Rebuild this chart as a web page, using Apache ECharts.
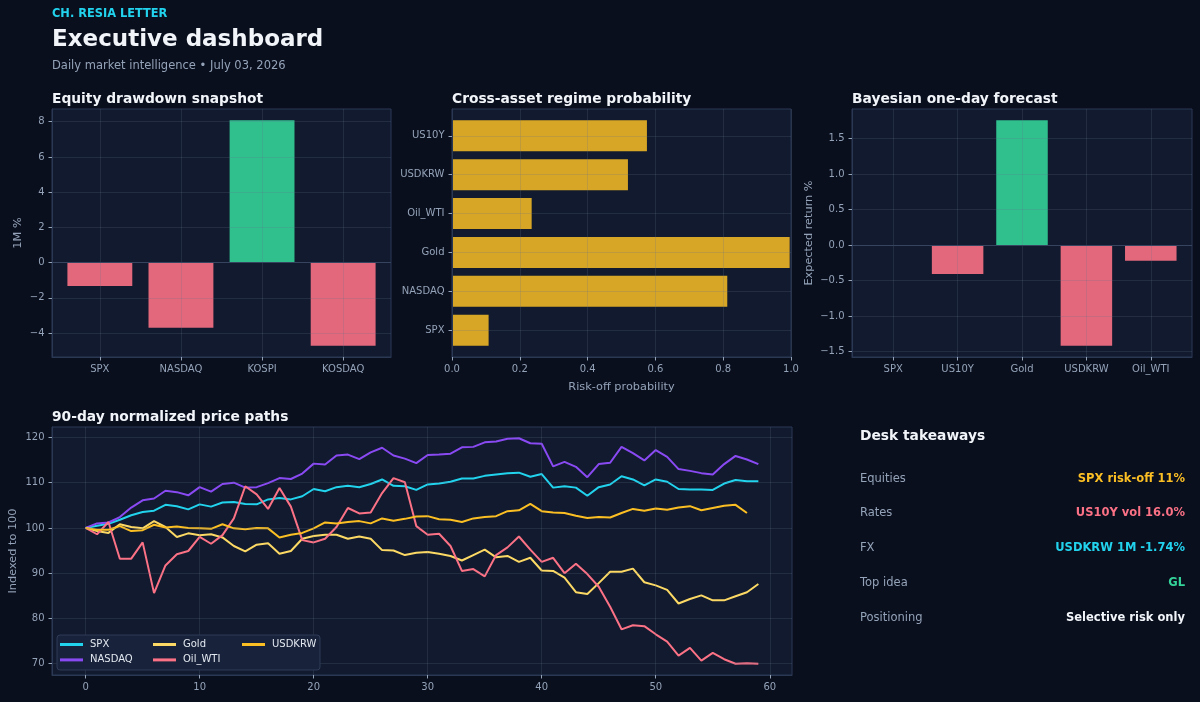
<!DOCTYPE html>
<html>
<head>
<meta charset="utf-8">
<title>Executive dashboard</title>
<script src="https://cdn.jsdelivr.net/npm/echarts@6.0.0/dist/echarts.min.js"></script>
<style>
html, body { margin: 0; padding: 0; background: #0a0f1e; }
#main { width: 1200px; height: 702px; }
</style>
</head>
<body>
<div id="main"></div>
<script>
// equity drawdown snapshot (1M %)
var eqNames = ['SPX', 'NASDAQ', 'KOSPI', 'KOSDAQ'];
var eqValues = [-1.33, -3.70, 8.08, -4.72];
var eqTicks = [-4, -2, 0, 2, 4, 6, 8];

// cross-asset regime probability, bottom to top
var regNames = ['SPX', 'NASDAQ', 'Gold', 'Oil_WTI', 'USDKRW', 'US10Y'];
var regValues = [0.108, 0.812, 0.996, 0.235, 0.519, 0.575];
var regTicks = [0, 0.2, 0.4, 0.6, 0.8, 1.0];

// bayesian one-day forecast (expected return %)
var fcNames = ['SPX', 'US10Y', 'Gold', 'USDKRW', 'Oil_WTI'];
var fcValues = [0.0, -0.41, 1.76, -1.42, -0.22];
var fcTicks = [-1.5, -1.0, -0.5, 0, 0.5, 1.0, 1.5];

// 90-day normalized price paths
var pathTicksX = [0, 10, 20, 30, 40, 50, 60];
var pathTicksY = [70, 80, 90, 100, 110, 120];
var spx = [100, 100.5, 100.9, 101.8, 102.8, 103.5, 103.8, 105.1, 104.8, 104.1,
  105.2, 104.7, 105.6, 105.7, 105.3, 105.2, 106.3, 106.6, 106.3, 107.0,
  108.6, 108.1, 109.0, 109.3, 109.0, 109.7, 110.7, 109.3, 109.2, 108.4,
  109.6, 109.8, 110.2, 110.9, 110.9, 111.5, 111.8, 112.1, 112.2, 111.3,
  111.9, 108.9, 109.2, 108.9, 107.1, 109.0, 109.6, 111.4, 110.7, 109.4,
  110.7, 110.2, 108.6, 108.5, 108.5, 108.4, 109.8, 110.6, 110.3, 110.3];
var nasdaq = [100, 101.0, 101.2, 102.4, 104.5, 106.1, 106.5, 108.2, 107.9, 107.2,
  109.0, 108.0, 109.7, 110.0, 108.9, 109.0, 109.9, 111.0, 110.8, 112.0,
  114.2, 114.0, 116.0, 116.2, 115.2, 116.7, 117.7, 116.0, 115.3, 114.3,
  116.1, 116.2, 116.4, 117.8, 117.9, 118.9, 119.1, 119.7, 119.8, 118.7,
  118.6, 113.6, 114.6, 113.5, 111.2, 114.1, 114.4, 117.9, 116.5, 114.9,
  117.2, 115.7, 113.0, 112.6, 112.1, 111.8, 114.1, 115.9, 115.1, 114.1];
var gold = [100, 99.3, 98.9, 100.8, 100.2, 99.9, 101.5, 100.2, 98.0, 98.8,
  98.4, 98.6, 97.9, 96.0, 94.8, 96.3, 96.6, 94.3, 94.9, 97.6,
  98.2, 98.5, 98.5, 97.6, 98.1, 97.6, 95.1, 95.0, 94.0, 94.5,
  94.7, 94.3, 93.8, 92.8, 94.0, 95.2, 93.5, 93.8, 92.5, 93.4,
  90.6, 90.5, 89.0, 85.8, 85.4, 87.8, 90.3, 90.3, 91.0, 88.0,
  87.3, 86.3, 83.3, 84.3, 85.1, 84.0, 84.0, 84.9, 85.8, 87.6];
var oilWti = [100, 98.6, 101.3, 93.2, 93.2, 96.8, 85.6, 91.7, 94.2, 94.9,
  98.0, 96.5, 98.4, 102.1, 109.2, 107.4, 104.2, 108.8, 104.7, 97.3,
  96.8, 97.6, 100.2, 104.4, 103.2, 103.4, 107.7, 111.0, 110.1, 100.4,
  98.5, 98.7, 96.0, 90.5, 90.9, 89.3, 94.0, 95.7, 98.1, 95.2,
  92.5, 93.4, 90.0, 92.1, 89.8, 87.0, 82.6, 77.6, 78.5, 78.3,
  76.5, 74.9, 71.8, 73.5, 70.7, 72.4, 71.0, 70.0, 70.1, 70.0];
var usdkrw = [100, 99.6, 99.6, 100.4, 99.3, 99.5, 100.7, 100.1, 100.3, 100.0,
  99.9, 99.8, 100.8, 99.9, 99.7, 100.0, 99.9, 97.9, 98.5, 98.9,
  99.9, 101.2, 101.0, 101.3, 101.5, 101.0, 102.1, 101.6, 102.0, 102.5,
  102.6, 101.9, 101.8, 101.3, 102.1, 102.4, 102.6, 103.7, 103.9, 105.3,
  103.7, 103.4, 103.3, 102.7, 102.2, 102.4, 102.3, 103.3, 104.2, 103.8,
  104.3, 104.0, 104.5, 104.8, 103.9, 104.4, 104.9, 105.1, 103.3];

// desk takeaways
var takeLabels = ['Equities', 'Rates', 'FX', 'Top idea', 'Positioning'];
var takeValues = ['SPX risk-off 11%', 'US10Y vol 16.0%', 'USDKRW 1M -1.74%', 'GL', 'Selective risk only'];

var FONT = '"DejaVu Sans", sans-serif';
var TICK = '#94a3b8';
var GRIDLINE = 'rgba(100,116,139,0.22)';
var SPINE = '#2b3854';
var PLOT_BG = '#111a2e';
var GREEN = 'rgba(52,211,153,0.9)';
var RED = 'rgba(251,113,133,0.9)';
var AMBER = 'rgba(251,191,36,0.85)';
var takeColors = ['#fbbf24', '#fb7185', '#22d3ee', '#34d399', '#f1f5f9'];

var G = [
  {left: 52, top: 109, width: 339, height: 248},
  {left: 452, top: 109, width: 339, height: 248},
  {left: 852, top: 109, width: 340, height: 248},
  {left: 52, top: 427, width: 740, height: 248}
];

function pad(lo, hi) { var m = (hi - lo) * 0.05; return [lo - m, hi + m]; }
function num(v, d) { return v.toFixed(d).replace('-', '\u2212'); }
function minOf(a) { return Math.min.apply(null, a); }
function maxOf(a) { return Math.max.apply(null, a); }

var eqX = pad(-0.4, eqNames.length - 0.6);
var eqY = pad(Math.min(0, minOf(eqValues)), Math.max(0, maxOf(eqValues)));
var regY = pad(-0.4, regNames.length - 0.6);
var fcX = pad(-0.4, fcNames.length - 0.6);
var fcY = pad(Math.min(0, minOf(fcValues)), Math.max(0, maxOf(fcValues)));
var allPaths = spx.concat(nasdaq, gold, oilWti, usdkrw);
var pathX = pad(0, spx.length - 1);
var pathY = pad(minOf(allPaths), maxOf(allPaths));

function valueAxis(gi, ext, ticks, fmt, isY, extra) {
  var ax = {
    type: 'value', gridIndex: gi, min: ext[0], max: ext[1], z: 3,
    position: isY ? 'left' : 'bottom',
    nameMoveOverlap: false,
    axisLine: {show: true, onZero: false, lineStyle: {color: SPINE, width: 1}},
    axisTick: {show: true, inside: false, length: 3.5, customValues: ticks, lineStyle: {color: TICK, width: 1}},
    axisLabel: {customValues: ticks, formatter: fmt, color: TICK, fontSize: 10, fontFamily: FONT, margin: isY ? 7.5 : 7},
    splitLine: {show: true, lineStyle: {color: GRIDLINE, width: 1}},
    nameTextStyle: {color: TICK, fontSize: 11.3, fontFamily: FONT}
  };
  for (var k in extra) ax[k] = extra[k];
  return ax;
}

function zeroLine() {
  return {
    silent: true, symbol: ['none', 'none'], label: {show: false},
    lineStyle: {color: '#36445f', width: 1.2, type: 'solid'},
    data: [{yAxis: 0}]
  };
}

function txt(x, y, s, font, color, align) {
  return {type: 'text', x: x, y: y, silent: true, z: 10,
    style: {text: s, font: font, fill: color, align: align || 'left', verticalAlign: 'middle'}};
}

var gridOpts = G.map(function (g) {
  return {left: g.left, top: g.top, width: g.width, height: g.height, show: true,
    backgroundColor: PLOT_BG, borderColor: SPINE, borderWidth: 1, containLabel: false, outerBoundsMode: 'none'};
});

var eqBarW = 0.8 * G[0].width / (eqX[1] - eqX[0]);
var fcBarW = 0.8 * G[2].width / (fcX[1] - fcX[0]);

var xAxes = [
  valueAxis(0, eqX, [0, 1, 2, 3], function (v) { return eqNames[Math.round(v)]; }, false),
  valueAxis(1, [0, 1], regTicks, function (v) { return num(v, 1); }, false,
    {name: 'Risk-off probability', nameLocation: 'middle', nameGap: 25}),
  valueAxis(2, fcX, [0, 1, 2, 3, 4], function (v) { return fcNames[Math.round(v)]; }, false),
  valueAxis(3, pathX, pathTicksX, function (v) { return num(v, 0); }, false)
];
var yAxes = [
  valueAxis(0, eqY, eqTicks, function (v) { return num(v, 0); }, true,
    {name: '1M %', nameLocation: 'middle', nameGap: 28, nameRotate: 90}),
  valueAxis(1, regY, [0, 1, 2, 3, 4, 5], function (v) { return regNames[Math.round(v)]; }, true),
  valueAxis(2, fcY, fcTicks, function (v) { return num(v, 1); }, true,
    {name: 'Expected return %', nameLocation: 'middle', nameGap: 37.5, nameRotate: 90}),
  valueAxis(3, pathY, pathTicksY, function (v) { return num(v, 0); }, true,
    {name: 'Indexed to 100', nameLocation: 'middle', nameGap: 33, nameRotate: 90})
];

function lineSeries(name, vals, color) {
  return {
    type: 'line', name: name, xAxisIndex: 3, yAxisIndex: 3,
    data: vals.map(function (v, i) { return [i, v]; }),
    showSymbol: false, symbol: 'none', z: 2,
    lineStyle: {width: 2, color: color}, itemStyle: {color: color}
  };
}

var series = [
  {
    type: 'bar', xAxisIndex: 0, yAxisIndex: 0, barWidth: eqBarW, z: 2,
    data: eqValues.map(function (v, i) { return {value: [i, v], itemStyle: {color: v >= 0 ? GREEN : RED}}; }),
    markLine: zeroLine()
  },
  {
    type: 'custom', xAxisIndex: 1, yAxisIndex: 1, z: 2,
    encode: {x: 0, y: 1},
    data: regValues.map(function (v, i) { return [v, i]; }),
    renderItem: function (params, api) {
      var v = api.value(0), i = api.value(1);
      var p0 = api.coord([0, i + 0.4]);
      var p1 = api.coord([v, i - 0.4]);
      return {type: 'rect', shape: {x: p0[0], y: p0[1], width: p1[0] - p0[0], height: p1[1] - p0[1]},
        style: {fill: AMBER}};
    }
  },
  {
    type: 'bar', xAxisIndex: 2, yAxisIndex: 2, barWidth: fcBarW, z: 2,
    data: fcValues.map(function (v, i) { return {value: [i, v], itemStyle: {color: v >= 0 ? GREEN : RED}}; }),
    markLine: zeroLine()
  },
  lineSeries('SPX', spx, '#22d3ee'),
  lineSeries('NASDAQ', nasdaq, '#8a4af3'),
  lineSeries('Gold', gold, '#fcd965'),
  lineSeries('Oil_WTI', oilWti, '#fb7185'),
  lineSeries('USDKRW', usdkrw, '#fbbf24')
];

function legendCol(left, names) {
  return {
    data: names, left: left, top: 638, orient: 'vertical', padding: 0, itemGap: 2.4,
    itemWidth: 23, itemHeight: 3, icon: 'rect', z: 12, selectedMode: false,
    textStyle: {color: '#e2e8f0', fontSize: 10, fontFamily: FONT, lineHeight: 13, padding: [0, 0, 0, 2]}
  };
}

var graphics = [
  {type: 'rect', z: 11, silent: true, shape: {x: 57, y: 635, width: 263, height: 35, r: 3},
    style: {fill: '#18223a', stroke: '#2f3b57', lineWidth: 1}},
  txt(52, 14, 'CH. RESIA LETTER', 'bold 11.4px ' + FONT, '#22d3ee'),
  txt(52, 40, 'Executive dashboard', 'bold 23px ' + FONT, '#f1f5f9'),
  txt(52, 66, 'Daily market intelligence \u2022 July 03, 2026', '11.5px ' + FONT, '#94a3b8'),
  txt(52, 99.5, 'Equity drawdown snapshot', 'bold 13.8px ' + FONT, '#f1f5f9'),
  txt(452, 99.5, 'Cross-asset regime probability', 'bold 13.8px ' + FONT, '#f1f5f9'),
  txt(852, 99.5, 'Bayesian one-day forecast', 'bold 13.8px ' + FONT, '#f1f5f9'),
  txt(52, 417.5, '90-day normalized price paths', 'bold 13.8px ' + FONT, '#f1f5f9'),
  txt(860, 436, 'Desk takeaways', 'bold 13.8px ' + FONT, '#f1f5f9')
];
var rowY = [479, 513.5, 548.5, 583, 618];
takeLabels.forEach(function (lab, i) {
  graphics.push(txt(860, rowY[i], lab, '11.5px ' + FONT, '#94a3b8'));
  graphics.push(txt(1185, rowY[i], takeValues[i], 'bold 11.5px ' + FONT, takeColors[i], 'right'));
});

var chart = echarts.init(document.getElementById('main'));
chart.setOption({
  backgroundColor: '#0a0f1e',
  animation: false,
  textStyle: {fontFamily: FONT},
  grid: gridOpts,
  xAxis: xAxes,
  yAxis: yAxes,
  legend: [
    legendCol(60, ['SPX', 'NASDAQ']),
    legendCol(153, ['Gold', 'Oil_WTI']),
    legendCol(242, ['USDKRW'])
  ],
  tooltip: {show: false},
  series: series,
  graphic: graphics
});
</script>
</body>
</html>
